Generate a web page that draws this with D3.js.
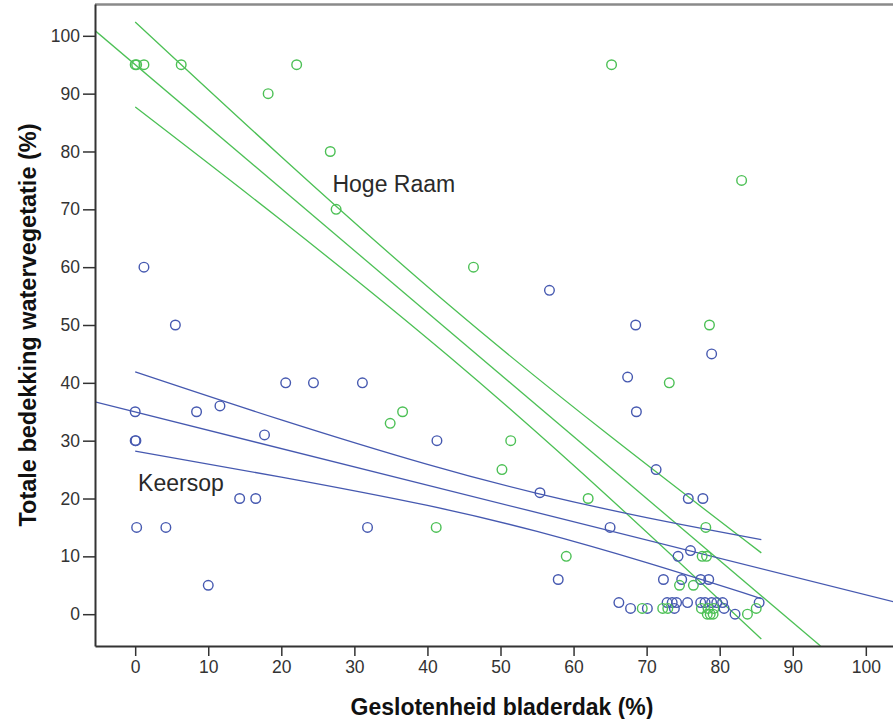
<!DOCTYPE html>
<html>
<head>
<meta charset="utf-8">
<script src="https://cdn.jsdelivr.net/npm/d3@7"></script>
<style>
    body { margin: 0; background: #fff; }
    svg { display: block; font-family: "Liberation Sans", Arial, sans-serif; }
</style>
</head>
<body>
<svg></svg>
<script>
// Hoge Raam (green) points: canopy closure (%), water vegetation cover (%)
var hogeRaamX = [0, 0.2, 1.2, 6.3, 18.2, 22.1, 26.7, 27.5, 46.3, 65.2, 83, 78.6, 73.1, 36.6, 34.9, 51.4, 50.2, 62, 41.2, 59,
    78.1, 77.6, 78.2, 74.5, 76.4, 69.4, 72.2, 72.9, 77.5, 78.4, 79.2, 78.3, 78.7, 79.1, 83.8, 85];
var hogeRaamY = [95, 95, 95, 95, 90, 95, 80, 70, 60, 95, 75, 50, 40, 35, 33, 30, 25, 20, 15, 10,
    15, 10, 10, 5, 5, 1, 1, 1, 1, 1, 1, 0, 0, 0, 0, 1];

// Keersop (blue) points
var keersopX = [1.2, 5.5, 0, 0, 0.1, 8.4, 11.6, 17.7, 20.6, 24.4, 31.1, 14.3, 16.5, 0.2, 4.2, 10, 31.8, 41.3, 56.7, 68.5,
    67.4, 68.6, 78.9, 55.4, 71.3, 65, 75.7, 77.7, 74.3, 76, 57.9, 72.3, 74.8, 77.4, 78.5, 66.2, 67.8, 70.1, 72.8, 73.5,
    74.1, 75.6, 77.4, 78, 78.9, 79.6, 80.4, 80.6, 73.8, 82.1, 85.4];
var keersopY = [60, 50, 35, 30, 30, 35, 36, 31, 40, 40, 40, 20, 20, 15, 15, 5, 15, 30, 56, 50,
    41, 35, 45, 21, 25, 15, 20, 20, 10, 11, 6, 6, 6, 6, 6, 2, 1, 1, 2, 2,
    2, 2, 2, 2, 2, 2, 2, 1, 1, 0, 2];

// fit lines and 95% bands
var hogeRaamFitX = [-5.5, 93.8];
var hogeRaamFitY = [100.9, -5.5];
var hogeRaamBandX = [0, 20, 43, 65, 85.7];
var hogeRaamUpper = [102.4, 79.1, 53.4, 30.8, 10.6];
var hogeRaamLower = [87.7, 68.1, 44.5, 20.0, -4.3];

var keersopFitX = [-5.5, 105.5];
var keersopFitY = [36.7, 1.6];
var keersopBandX = [0, 20, 40, 55, 70, 85.7];
var keersopUpper = [41.9, 33.6, 25.9, 20.9, 16.7, 12.9];
var keersopLower = [28.2, 23.7, 18.8, 14.3, 8.9, 2.7];

var xTicks = [0, 10, 20, 30, 40, 50, 60, 70, 80, 90, 100];
var yTicks = [0, 10, 20, 30, 40, 50, 60, 70, 80, 90, 100];

var green = "#4cc055";
var blue = "#4659b0";

var svgWidth = 893, svgHeight = 719;
var svg = d3.select("svg")
    .attr("width", svgWidth)
    .attr("height", svgHeight);

var x = d3.scaleLinear().domain([-5.5, 105.5]).range([95, 906]);
var y = d3.scaleLinear().domain([-5.5, 105.5]).range([646, 4]);

svg.append("clipPath")
    .attr("id", "plot")
    .append("rect")
    .attr("x", x(-5.5))
    .attr("y", y(105.5))
    .attr("width", x(105.5) - x(-5.5))
    .attr("height", y(-5.5) - y(105.5));

var plot = svg.append("g").attr("clip-path", "url(#plot)");

function toPoints(xs, ys) {
    return xs.map(function(d, i) { return [d, ys[i]]; });
}

var line = d3.line()
    .x(function(d) { return x(d[0]); })
    .y(function(d) { return y(d[1]); });

var band = d3.line()
    .curve(d3.curveNatural)
    .x(function(d) { return x(d[0]); })
    .y(function(d) { return y(d[1]); });

var lines = [
    { pts: toPoints(hogeRaamFitX, hogeRaamFitY), gen: line, color: green },
    { pts: toPoints(hogeRaamBandX, hogeRaamUpper), gen: band, color: green },
    { pts: toPoints(hogeRaamBandX, hogeRaamLower), gen: band, color: green },
    { pts: toPoints(keersopFitX, keersopFitY), gen: line, color: blue },
    { pts: toPoints(keersopBandX, keersopUpper), gen: band, color: blue },
    { pts: toPoints(keersopBandX, keersopLower), gen: band, color: blue }
];

lines.forEach(function(l) {
    plot.append("path")
        .datum(l.pts)
        .attr("fill", "none")
        .attr("stroke", l.color)
        .attr("stroke-width", 1.3)
        .attr("d", l.gen);
});

plot.selectAll("circle.keersop")
    .data(toPoints(keersopX, keersopY))
    .enter()
    .append("circle")
    .attr("class", "keersop")
    .attr("cx", function(d) { return x(d[0]); })
    .attr("cy", function(d) { return y(d[1]); })
    .attr("r", 4.8)
    .attr("fill", "none")
    .attr("stroke", blue)
    .attr("stroke-width", 1.4);

plot.selectAll("circle.hoge")
    .data(toPoints(hogeRaamX, hogeRaamY))
    .enter()
    .append("circle")
    .attr("class", "hoge")
    .attr("cx", function(d) { return x(d[0]); })
    .attr("cy", function(d) { return y(d[1]); })
    .attr("r", 4.8)
    .attr("fill", "none")
    .attr("stroke", green)
    .attr("stroke-width", 1.4);

// group labels
plot.append("text")
    .attr("x", x(27))
    .attr("y", y(73))
    .attr("fill", "#2a2a2a")
    .style("font-size", "23px")
    .text("Hoge Raam");

plot.append("text")
    .attr("x", x(0.4))
    .attr("y", y(21.3))
    .attr("fill", "#2a2a2a")
    .style("font-size", "23px")
    .text("Keersop");

// frame top
svg.append("line")
    .attr("x1", x(-5.5))
    .attr("x2", svgWidth)
    .attr("y1", y(105.5) + 0.5)
    .attr("y2", y(105.5) + 0.5)
    .attr("stroke", "#8a8a8a")
    .attr("stroke-width", 2.5);

var yAxis = svg.append("g")
    .attr("transform", "translate(" + x(-5.5) + ",0)")
    .call(d3.axisLeft(y).tickValues(yTicks).tickSize(12).tickPadding(3).tickSizeOuter(0));

var xAxis = svg.append("g")
    .attr("transform", "translate(0," + y(-5.5) + ")")
    .call(d3.axisBottom(x).tickValues(xTicks).tickSize(10).tickPadding(5).tickSizeOuter(0));

[xAxis, yAxis].forEach(function(a) {
    a.select(".domain").attr("stroke", "#333").attr("stroke-width", 2);
    a.selectAll(".tick line").attr("stroke", "#333").attr("stroke-width", 1.5);
    a.selectAll(".tick text")
        .attr("fill", "#333")
        .style("font-size", "17.5px")
        .style("font-family", "'Liberation Sans', Arial, sans-serif");
});

svg.append("text")
    .attr("x", 502)
    .attr("y", 715)
    .attr("text-anchor", "middle")
    .attr("fill", "#111")
    .style("font-size", "23px")
    .style("font-weight", "bold")
    .text("Geslotenheid bladerdak (%)");

svg.append("text")
    .attr("transform", "translate(36,325) rotate(-90)")
    .attr("text-anchor", "middle")
    .attr("fill", "#111")
    .style("font-size", "23.5px")
    .style("font-weight", "bold")
    .text("Totale bedekking watervegetatie (%)");
</script>
</body>
</html>
